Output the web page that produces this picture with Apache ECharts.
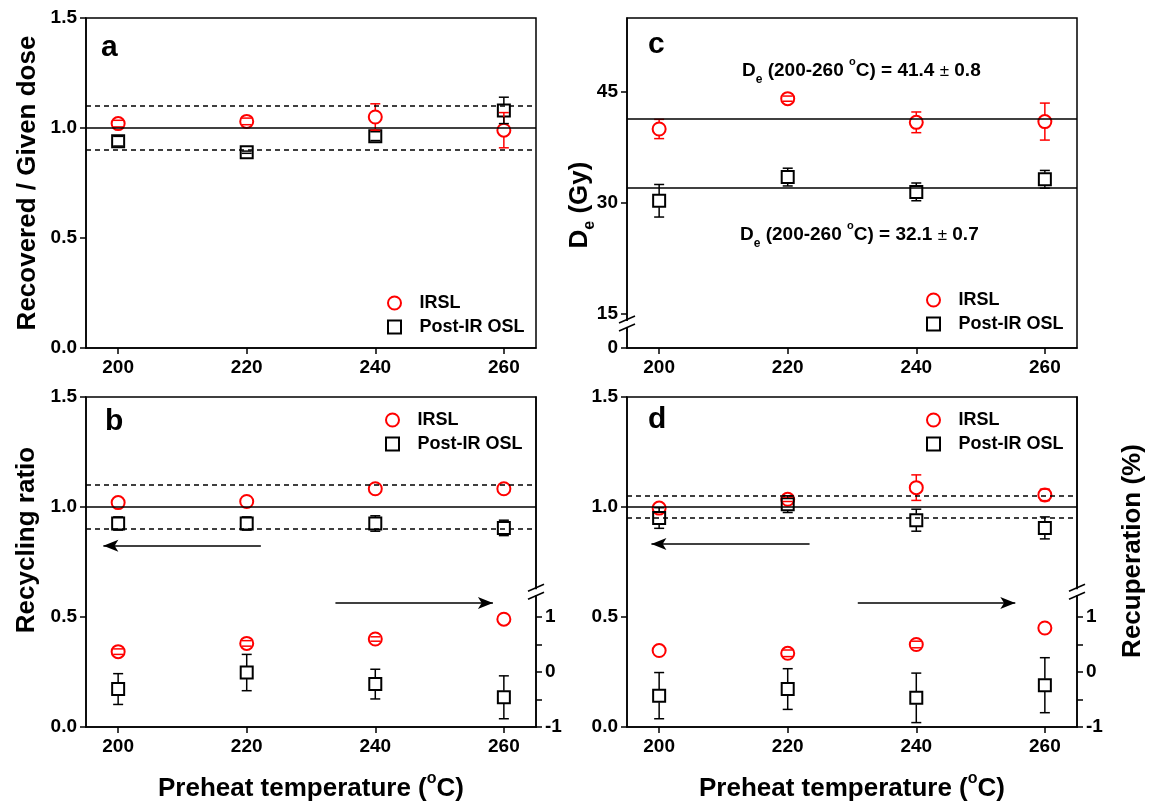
<!DOCTYPE html>
<html>
<head>
<meta charset="utf-8">
<script src="https://cdn.jsdelivr.net/npm/echarts@6/dist/echarts.min.js"></script>
<style>
  html, body { margin: 0; padding: 0; background: #fff; }
  #chart { width: 1149px; height: 807px; }
</style>
</head>
<body>
<div id="chart"></div>
<script>
// Preheat temperatures (deg C)
const temps = [200, 220, 240, 260];

// (a) dose recovery: recovered / given dose
const doseIRSL = [1.02, 1.03, 1.05, 0.99];
const doseIRSLErr = [0.015, 0.015, 0.06, 0.08];
const doseOSL = [0.94, 0.89, 0.963, 1.08];
const doseOSLErr = [0.022, 0.005, 0.02, 0.06];

// (c) equivalent dose (Gy)
const deIRSL = [40.0, 44.1, 40.9, 41.0];
const deIRSLErr = [1.3, 0.35, 1.4, 2.5];
const deOSL = [30.3, 33.5, 31.5, 33.2];
const deOSLErr = [2.2, 1.2, 1.2, 1.2];
const deMeanIRSL = [41.4, 0.8];   // mean, error over 200-260 C
const deMeanOSL = [32.1, 0.7];

// (b) recycling ratio (left) and recuperation % (right)
const recycleB_IRSL = [1.02, 1.025, 1.083, 1.083];
const recycleB_IRSLErr = [0, 0, 0, 0];
const recycleB_OSL = [0.925, 0.925, 0.925, 0.905];
const recycleB_OSLErr = [0.03, 0.03, 0.035, 0.035];
const recupB_IRSL = [0.37, 0.52, 0.60, 0.96];
const recupB_IRSLErr = [0.05, 0.05, 0.04, 0];
const recupB_OSL = [-0.31, -0.01, -0.22, -0.46];
const recupB_OSLErr = [0.28, 0.33, 0.27, 0.39];

// (d) recycling ratio (left) and recuperation % (right)
const recycleD_IRSL = [0.995, 1.035, 1.088, 1.055];
const recycleD_IRSLErr = [0, 0.01, 0.058, 0.026];
const recycleD_OSL = [0.95, 1.013, 0.94, 0.905];
const recycleD_OSLErr = [0.047, 0.038, 0.05, 0.05];
const recupD_IRSL = [0.39, 0.34, 0.50, 0.80];
const recupD_IRSLErr = [0, 0.06, 0.06, 0];
const recupD_OSL = [-0.43, -0.31, -0.47, -0.24];
const recupD_OSLErr = [0.42, 0.37, 0.45, 0.50];

// Reference levels
const unityLevel = 1.0;
const limits10 = [1.1, 0.9];
const limits5 = [1.05, 0.95];

// Tick labels
const ratioTicks = [0, 0.5, 1.0, 1.5];
const deTicks = [0, 15, 30, 45];
const recupTicks = [-1, 0, 1];
const recupMinorTicks = [-1, -0.5, 0, 0.5, 1];

// Arrows pointing each series group to its axis: [x1, y1, x2, y2] (left-axis units)
const arrowsB = [[222.2, 0.824, 197.7, 0.824], [233.8, 0.564, 258.3, 0.564]];
const arrowsD = [[223.4, 0.832, 198.8, 0.832], [230.9, 0.564, 255.4, 0.564]];

const FONT = '"Liberation Sans", Arial, Helvetica, sans-serif';
const RED = '#ff0000';
const BLACK = '#000000';

const grids = [
  { left: 86, top: 18, width: 450, height: 330 },   // a
  { left: 627, top: 18, width: 450, height: 330 },  // c
  { left: 86, top: 397, width: 450, height: 330 },  // b
  { left: 627, top: 397, width: 450, height: 330 }  // d
].map(g => Object.assign({ show: true, borderColor: BLACK, borderWidth: 1.5, containLabel: false }, g));

const axisLineStyle = { show: true, onZero: false, lineStyle: { color: BLACK, width: 1.5 } };
const tickLabel = { color: BLACK, fontSize: 19, fontWeight: 'bold', fontFamily: FONT };

function xAxisFor(gridIndex) {
  return {
    type: 'value', gridIndex, min: 195, max: 265,
    axisLine: axisLineStyle,
    axisTick: { show: true, inside: false, length: 6, lineStyle: { color: BLACK, width: 1.5 }, customValues: temps },
    axisLabel: Object.assign({ customValues: temps, margin: 10 }, tickLabel),
    splitLine: { show: false }
  };
}

function ratioAxis(gridIndex) {
  return {
    type: 'value', gridIndex, min: 0, max: 1.5, position: 'left',
    axisLine: axisLineStyle,
    axisTick: { show: true, inside: false, length: 6, lineStyle: { color: BLACK, width: 1.5 }, customValues: ratioTicks },
    axisLabel: Object.assign({ customValues: ratioTicks, margin: 9, formatter: v => v.toFixed(1) }, tickLabel),
    splitLine: { show: false }
  };
}

function recupAxis(gridIndex) {
  return {
    type: 'value', gridIndex, min: -1, max: 5, position: 'right',
    axisLine: axisLineStyle,
    axisTick: { show: true, inside: false, length: 6, lineStyle: { color: BLACK, width: 1.5 }, customValues: recupMinorTicks },
    axisLabel: Object.assign({ customValues: recupTicks, margin: 9 }, tickLabel),
    splitLine: { show: false }
  };
}

const xAxes = [0, 1, 2, 3].map(xAxisFor);
const yAxes = [
  ratioAxis(0),
  {
    type: 'value', gridIndex: 1, min: 0, max: 55,
    breaks: [{ start: 2.3, end: 12.7, gap: 0 }],
    breakArea: { show: false },
    axisLine: axisLineStyle,
    axisTick: { show: true, inside: false, length: 6, lineStyle: { color: BLACK, width: 1.5 }, customValues: deTicks },
    axisLabel: Object.assign({ customValues: deTicks, margin: 9 }, tickLabel),
    splitLine: { show: false }
  },
  ratioAxis(2),
  recupAxis(2),
  ratioAxis(3),
  recupAxis(3)
];

function points(name, xi, yi, ys, symbol, color, extra) {
  return Object.assign({
    type: 'scatter', name, xAxisIndex: xi, yAxisIndex: yi,
    symbol, symbolSize: symbol === 'circle' ? 13 : 12, z: 3,
    data: temps.map((t, i) => [t, ys[i]]),
    itemStyle: { color: 'rgba(0,0,0,0)', borderColor: color, borderWidth: 2, opacity: 1 },
    emphasis: { disabled: true },
    animation: false
  }, extra || {});
}

// Error bars: caps at value +/- err, stems drawn only outside the marker
function errorBars(name, xi, yi, ys, es, color) {
  return {
    type: 'custom', name, xAxisIndex: xi, yAxisIndex: yi, z: 4,
    data: temps.map((t, i) => [t, ys[i], es[i]]),
    encode: { x: 0, y: 1 },
    animation: false,
    silent: true,
    renderItem(params, api) {
      const x = api.value(0), y = api.value(1), e = api.value(2);
      if (!(e > 0)) return null;
      const c = api.coord([x, y]);
      const hi = api.coord([x, y + e])[1];
      const lo = api.coord([x, y - e])[1];
      const half = 5, r = 6.5;
      const style = { stroke: color, lineWidth: 1.5, fill: null };
      const children = [
        { type: 'line', shape: { x1: c[0] - half, y1: hi, x2: c[0] + half, y2: hi }, style },
        { type: 'line', shape: { x1: c[0] - half, y1: lo, x2: c[0] + half, y2: lo }, style }
      ];
      if (hi < c[1] - r) children.push({ type: 'line', shape: { x1: c[0], y1: hi, x2: c[0], y2: c[1] - r }, style });
      if (lo > c[1] + r) children.push({ type: 'line', shape: { x1: c[0], y1: c[1] + r, x2: c[0], y2: lo }, style });
      return { type: 'group', children };
    }
  };
}

function refLine(y, dashed) {
  return { yAxis: y, lineStyle: { color: BLACK, width: 1.5, type: dashed ? [5, 4] : 'solid' } };
}
function arrowLine(a) {
  return [
    { coord: [a[0], a[1]], symbol: 'none', lineStyle: { color: BLACK, width: 1.5, type: 'solid' } },
    { coord: [a[2], a[3]], symbol: 'arrow', symbolSize: [9, 15] }
  ];
}
function markLines(items) {
  return {
    silent: true, symbol: ['none', 'none'], label: { show: false },
    emphasis: { disabled: true }, animation: false,
    data: items
  };
}

const series = [
  // a
  points('IRSL', 0, 0, doseIRSL, 'circle', RED),
  points('Post-IR OSL', 0, 0, doseOSL, 'rect', BLACK, {
    markLine: markLines([refLine(unityLevel, false), refLine(limits10[0], true), refLine(limits10[1], true)])
  }),
  // c
  points('IRSL', 1, 1, deIRSL, 'circle', RED),
  points('Post-IR OSL', 1, 1, deOSL, 'rect', BLACK, {
    markLine: markLines([refLine(deMeanIRSL[0], false), refLine(deMeanOSL[0], false)])
  }),
  // b
  points('IRSL', 2, 2, recycleB_IRSL, 'circle', RED),
  points('Post-IR OSL', 2, 2, recycleB_OSL, 'rect', BLACK, {
    markLine: markLines([refLine(unityLevel, false), refLine(limits10[0], true), refLine(limits10[1], true)]
      .concat(arrowsB.map(arrowLine)))
  }),
  points('IRSL', 2, 3, recupB_IRSL, 'circle', RED),
  points('Post-IR OSL', 2, 3, recupB_OSL, 'rect', BLACK),
  // d
  points('IRSL', 3, 4, recycleD_IRSL, 'circle', RED),
  points('Post-IR OSL', 3, 4, recycleD_OSL, 'rect', BLACK, {
    markLine: markLines([refLine(unityLevel, false), refLine(limits5[0], true), refLine(limits5[1], true)]
      .concat(arrowsD.map(arrowLine)))
  }),
  points('IRSL', 3, 5, recupD_IRSL, 'circle', RED),
  points('Post-IR OSL', 3, 5, recupD_OSL, 'rect', BLACK),
  // error bars
  errorBars('IRSL', 0, 0, doseIRSL, doseIRSLErr, RED),
  errorBars('Post-IR OSL', 0, 0, doseOSL, doseOSLErr, BLACK),
  errorBars('IRSL', 1, 1, deIRSL, deIRSLErr, RED),
  errorBars('Post-IR OSL', 1, 1, deOSL, deOSLErr, BLACK),
  errorBars('IRSL', 2, 2, recycleB_IRSL, recycleB_IRSLErr, RED),
  errorBars('Post-IR OSL', 2, 2, recycleB_OSL, recycleB_OSLErr, BLACK),
  errorBars('IRSL', 2, 3, recupB_IRSL, recupB_IRSLErr, RED),
  errorBars('Post-IR OSL', 2, 3, recupB_OSL, recupB_OSLErr, BLACK),
  errorBars('IRSL', 3, 4, recycleD_IRSL, recycleD_IRSLErr, RED),
  errorBars('Post-IR OSL', 3, 4, recycleD_OSL, recycleD_OSLErr, BLACK),
  errorBars('IRSL', 3, 5, recupD_IRSL, recupD_IRSLErr, RED),
  errorBars('Post-IR OSL', 3, 5, recupD_OSL, recupD_OSLErr, BLACK)
];

function legendAt(left, top) {
  return {
    orient: 'vertical', left, top,
    data: [
      { name: 'IRSL', icon: 'circle' },
      { name: 'Post-IR OSL', icon: 'path://M0,0L10,0L10,10L0,10Z' }
    ],
    itemWidth: 40, itemHeight: 13, itemGap: 6,
    symbolKeepAspect: true,
    itemStyle: { borderWidth: 2 },
    textStyle: { color: BLACK, fontSize: 18, fontWeight: 'bold', fontFamily: FONT, lineHeight: 18 },
    selectedMode: false
  };
}

const option = {
  animation: false,
  backgroundColor: '#ffffff',
  grid: grids,
  xAxis: xAxes,
  yAxis: yAxes,
  legend: [legendAt(382, 289), legendAt(921, 286), legendAt(380, 406), legendAt(921, 406)],
  series
};

const chart = echarts.init(document.getElementById('chart'), null, { renderer: 'canvas' });
chart.setOption(option);

// ---- text and decorations ----
function txt(x, y, text, font, extra) {
  return Object.assign({
    type: 'text', x, y, z: 100,
    style: Object.assign({
      text, font, fill: BLACK,
      align: 'center', verticalAlign: 'middle',
      textAlign: 'center', textVerticalAlign: 'middle'
    }, extra && extra.style || {})
  }, extra && extra.el || {});
}

const boldBig = 'bold 26px ' + FONT;
const letterFont = 'bold 30px ' + FONT;

function meanText(mean) {
  return '{t|D}{s|e}{t| (' + temps[0] + '-' + temps[temps.length - 1] + ' }{o|o}{t|C) = ' +
    mean[0].toFixed(1) + ' }{pm|\u00b1}{t| ' + mean[1].toFixed(1) + '}';
}
const meanRich = {
  t: { fontSize: 19, fontWeight: 'bold', fontFamily: FONT, fill: BLACK, color: BLACK, lineHeight: 30 },
  s: { fontSize: 12, fontWeight: 'bold', fontFamily: FONT, fill: BLACK, color: BLACK, lineHeight: 10, verticalAlign: 'bottom' },
  o: { fontSize: 11, fontWeight: 'bold', fontFamily: FONT, fill: BLACK, color: BLACK, lineHeight: 18, verticalAlign: 'top' },
  pm: { fontSize: 17, fontWeight: 'normal', fontFamily: FONT, fill: BLACK, color: BLACK, lineHeight: 30 }
};
const titleRich = {
  t: { fontSize: 26, fontWeight: 'bold', fontFamily: FONT, fill: BLACK, color: BLACK, lineHeight: 36 },
  s: { fontSize: 16, fontWeight: 'bold', fontFamily: FONT, fill: BLACK, color: BLACK, lineHeight: 14, verticalAlign: 'bottom' },
  o: { fontSize: 16, fontWeight: 'bold', fontFamily: FONT, fill: BLACK, color: BLACK, lineHeight: 20, verticalAlign: 'top' }
};

const gfx = [
  // panel letters
  txt(101, 47.6, 'a', letterFont, { style: { align: 'left', textAlign: 'left' } }),
  txt(648, 44.6, 'c', letterFont, { style: { align: 'left', textAlign: 'left' } }),
  txt(105, 421.6, 'b', letterFont, { style: { align: 'left', textAlign: 'left' } }),
  txt(648, 419.6, 'd', letterFont, { style: { align: 'left', textAlign: 'left' } }),
  // axis titles
  txt(28, 183, 'Recovered / Given dose', boldBig, { el: { rotation: Math.PI / 2 } }),
  txt(27, 540, 'Recycling ratio', boldBig, { el: { rotation: Math.PI / 2 } }),
  txt(1133, 551, 'Recuperation (%)', boldBig, { el: { rotation: Math.PI / 2 } }),
  txt(580, 205, '{t|D}{s|e}{t| (Gy)}', boldBig, { el: { rotation: Math.PI / 2 }, style: { rich: titleRich } }),
  txt(311, 789, '{t|Preheat temperature (}{o|o}{t|C)}', boldBig, { style: { rich: titleRich } }),
  txt(852, 789, '{t|Preheat temperature (}{o|o}{t|C)}', boldBig, { style: { rich: titleRich } }),
  // mean De annotations
  txt(742, 71, meanText(deMeanIRSL), 'bold 19px ' + FONT, { style: { align: 'left', textAlign: 'left', rich: meanRich } }),
  txt(740, 235, meanText(deMeanOSL), 'bold 19px ' + FONT, { style: { align: 'left', textAlign: 'left', rich: meanRich } })
];

// axis break symbols
function breakMark(cx, cy) {
  const st = { stroke: BLACK, lineWidth: 1.5 };
  return [
    { type: 'rect', z: 99, shape: { x: cx - 3, y: cy - 3, width: 6, height: 6 }, style: { fill: '#fff', stroke: null } },
    { type: 'line', z: 100, shape: { x1: cx - 8, y1: cy - 1, x2: cx + 8, y2: cy - 8 }, style: st },
    { type: 'line', z: 100, shape: { x1: cx - 8, y1: cy + 7, x2: cx + 8, y2: cy }, style: st }
  ];
}
const cAxis15 = chart.convertToPixel({ gridIndex: 1 }, [195, 15]);
gfx.push(...breakMark(cAxis15[0], cAxis15[1] + 10));
const bBreak = chart.convertToPixel({ xAxisIndex: 2, yAxisIndex: 3 }, [265, 1.45]);
gfx.push(...breakMark(bBreak[0], bBreak[1]));
const dBreak = chart.convertToPixel({ xAxisIndex: 3, yAxisIndex: 5 }, [265, 1.45]);
gfx.push(...breakMark(dBreak[0], dBreak[1]));

chart.setOption({ graphic: gfx });
</script>
</body>
</html>
